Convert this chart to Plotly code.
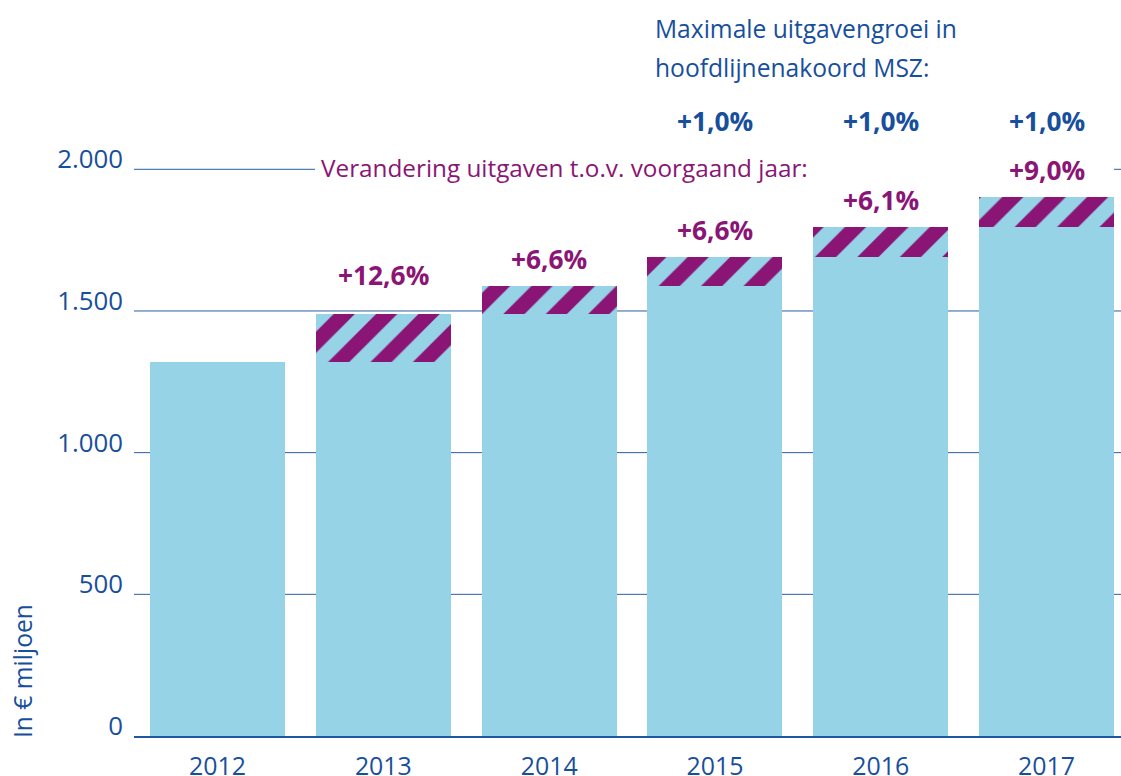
import plotly.graph_objects as go

# ---- data ----
years = ["2012", "2013", "2014", "2015", "2016", "2017"]
totals = [1321, 1489, 1588, 1690, 1795, 1901]          # in € miljoen
change_labels = ["", "+12,6%", "+6,6%", "+6,6%", "+6,1%", "+9,0%"]
max_growth_years = ["2015", "2016", "2017"]
max_growth_labels = ["+1,0%", "+1,0%", "+1,0%"]
y_ticks = [0, 500, 1000, 1500, 2000]
y_tick_text = ["0", "500", "1.000", "1.500", "2.000"]

base = [totals[0]] + totals[:-1]
increase = [t - b for t, b in zip(totals, base)]
xpos = list(range(len(years)))

LIGHT = "#96D3E7"
PURPLE = "#8A1575"
BLUE = "#174F9C"
GRID = "#2A5E9F"
FONT = "Open Sans"

fig = go.Figure()
fig.add_bar(x=xpos, y=base, marker=dict(color=LIGHT, line=dict(width=0)),
            width=0.814, hoverinfo="skip")
fig.add_bar(x=xpos, y=increase,
            marker=dict(color=LIGHT, line=dict(width=0),
                        pattern=dict(shape="/", fgcolor=PURPLE, bgcolor=LIGHT,
                                     fgopacity=1, size=30, solidity=0.5,
                                     fillmode="replace")),
            width=0.814, hoverinfo="skip")

ann = []
# purple change labels above the bars (2013-2016)
for i in range(1, 5):
    shift = 19 if years[i] == "2013" else 7
    ann.append(dict(x=i, y=totals[i], xref="x", yref="y",
                    text=f"<b>{change_labels[i]}</b>",
                    showarrow=False, yanchor="bottom", yshift=shift,
                    font=dict(family=FONT, size=26.3, color=PURPLE)))
# 2017 label on the row of the 'Verandering' text
ann.append(dict(x=5, y=(736 - 170) / 636, xref="x", yref="paper",
                text=f"<b>{change_labels[5]}</b>", showarrow=False,
                yanchor="middle", font=dict(family=FONT, size=26.3, color=PURPLE)))
# max growth labels
for yr, lab in zip(max_growth_years, max_growth_labels):
    ann.append(dict(x=years.index(yr), y=(736 - 121) / 636, xref="x", yref="paper",
                    text=f"<b>{lab}</b>", showarrow=False, yanchor="middle",
                    font=dict(family=FONT, size=26.3, color=BLUE)))
# titles
ann.append(dict(x=(653 - 134) / 987, y=(736 - 29) / 636, xref="paper", yref="paper",
                text="Maximale uitgavengroei in", showarrow=False,
                xanchor="left", yanchor="middle",
                font=dict(family=FONT, size=24.6, color=BLUE)))
ann.append(dict(x=(653 - 134) / 987, y=(736 - 67) / 636, xref="paper", yref="paper",
                text="hoofdlijnenakoord MSZ:", showarrow=False,
                xanchor="left", yanchor="middle",
                font=dict(family=FONT, size=24.6, color=BLUE)))
ann.append(dict(x=(319 - 134) / 987, y=(736 - 167) / 636, xref="paper", yref="paper",
                text="Verandering uitgaven t.o.v. voorgaand jaar:", showarrow=False,
                xanchor="left", yanchor="middle",
                font=dict(family=FONT, size=24.3, color=PURPLE)))
# y axis title
ann.append(dict(x=(22 - 134) / 987, y=0, xref="paper", yref="y",
                text="In € miljoen", showarrow=False, textangle=-90,
                xanchor="center", yanchor="bottom", yshift=-4,
                font=dict(family=FONT, size=24.6, color=BLUE)))

# horizontal grid lines (the 2000 line is interrupted behind the label row)
shapes = []
for v in y_ticks[1:]:
    if v == 2000:
        segs = [(0, (315 - 134) / 987), ((1114 - 134) / 987, 1)]
    else:
        segs = [(0, 1)]
    for a, b in segs:
        shapes.append(dict(type="line", xref="paper", yref="y", x0=a, x1=b,
                           y0=v, y1=v, line=dict(color=GRID, width=1),
                           layer="below"))

fig.update_layout(
    width=1121, height=776,
    margin=dict(l=134, r=0, t=100, b=40, pad=0, autoexpand=False),
    paper_bgcolor="white", plot_bgcolor="white",
    barmode="stack", showlegend=False,
    annotations=ann, shapes=shapes,
    xaxis=dict(range=[-0.504, 5.449], showgrid=False, zeroline=False,
               automargin=False,
               tickmode="array", tickvals=xpos, ticktext=years,
               showline=True, linecolor="#1F58A0", linewidth=2, layer="above traces",
               ticks="", tickfont=dict(family=FONT, size=24.9, color=BLUE),
               ticklabelstandoff=7, fixedrange=True),
    yaxis=dict(range=[0, 2244.6], tickvals=y_ticks, ticktext=y_tick_text,
               showgrid=False, zeroline=False, automargin=False,
               showline=False, ticks="", ticklabelposition="outside top",
               ticklabelstandoff=10, ticklabelshift=8,
               tickfont=dict(family=FONT, size=25.8, color=BLUE), fixedrange=True),
)

fig.write_html("out.html", config={"displayModeBar": False},
               post_script="document.body.style.margin='0';document.body.style.padding='0';")
